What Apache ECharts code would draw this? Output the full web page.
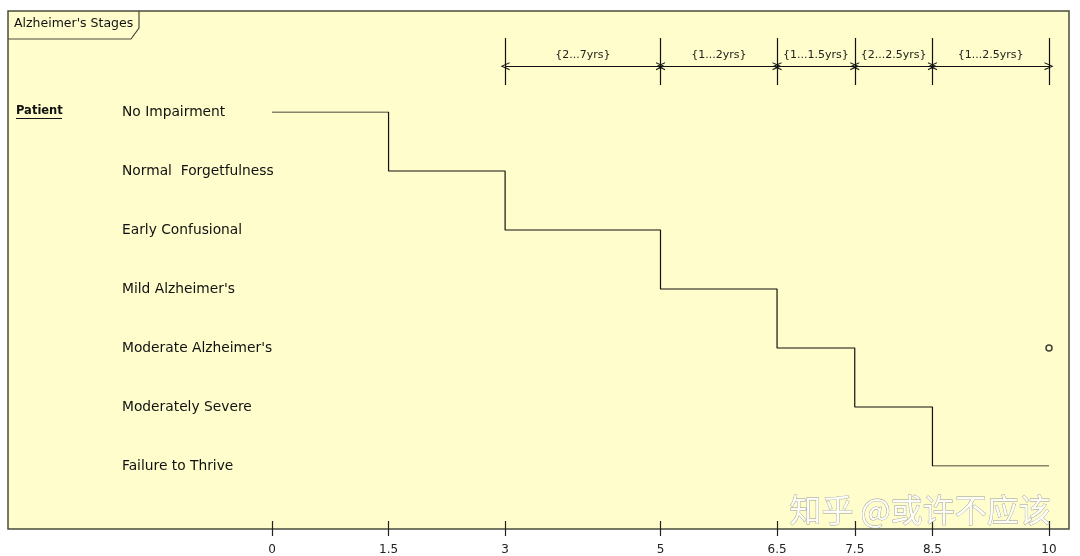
<!DOCTYPE html>
<html>
<head>
<meta charset="utf-8">
<script src="https://cdn.jsdelivr.net/npm/echarts@6/dist/echarts.min.js"></script>
<style>
  html, body { margin: 0; padding: 0; background: #fff; }
  #chart { width: 1080px; height: 556px; }
</style>
</head>
<body>
<div id="chart"></div>
<script>
// stages of the patient, top to bottom
const states = ['No Impairment', 'Normal  Forgetfulness', 'Early Confusional', "Mild Alzheimer's",
  "Moderate Alzheimer's", 'Moderately Severe', 'Failure to Thrive'];
const tickValues = [0, 1.5, 3, 5, 6.5, 7.5, 8.5, 10];
// time the patient enters each state
const changeTimes = [0, 1.5, 3, 5, 6.5, 7.5, 8.5, 10];
const changeStates = ['No Impairment', 'Normal  Forgetfulness', 'Early Confusional', "Mild Alzheimer's",
  "Moderate Alzheimer's", 'Moderately Severe', 'Failure to Thrive', 'Failure to Thrive'];
// duration constraints on top
const spanStart = [3, 5, 6.5, 7.5, 8.5];
const spanEnd = [5, 6.5, 7.5, 8.5, 10];
const spanLabel = ['{2...7yrs}', '{1...2yrs}', '{1...1.5yrs}', '{2...2.5yrs}', '{1...2.5yrs}'];
const markerPoint = [10, "Moderate Alzheimer's"];

const FONT = 'DejaVu Sans';
const arrowHead = 'path://M0,10 L5,0 L10,10 L8.6,10 L5,2.6 L1.4,10 Z';

const chart = echarts.init(document.getElementById('chart'));

const stepData = changeTimes.map((t, i) => [t, changeStates[i]]);
const boundaries = Array.from(new Set(spanStart.concat(spanEnd)));

var option = {
  animation: false,
  textStyle: { fontFamily: FONT },
  graphic: [
    {
      type: 'rect', z: -10,
      shape: { x: 8, y: 11, width: 1061, height: 518 },
      style: { fill: '#fefdcb', stroke: '#4b4b3c', lineWidth: 1.5 }
    },
    {
      type: 'polyline', z: -9,
      shape: { points: [[139, 11], [139, 28], [131, 39], [8, 39]] },
      style: { fill: null, stroke: '#4b4b3c', lineWidth: 1.2 }
    },
    {
      type: 'text', left: 14, top: 17,
      style: { text: "Alzheimer's Stages", font: '12.5px ' + FONT, fill: '#111' }
    },
    {
      type: 'text', left: 16, top: 105,
      style: { text: 'Patient', font: 'bold 11.5px ' + FONT, fill: '#111' }
    },
    {
      type: 'line',
      shape: { x1: 16, y1: 118.5, x2: 62, y2: 118.5 },
      style: { stroke: '#111', lineWidth: 1 }
    },
    {
      type: 'text', left: 789, top: 493, z: 100,
      style: {
        text: '知乎 @或许不应该', font: '32px "Noto Sans CJK SC"',
        fill: 'rgba(255,255,255,0.9)', stroke: '#9a9a90', lineWidth: 0.8
      }
    }
  ],
  grid: [
    { left: 272, right: 31, top: 112, bottom: 90 },
    { left: 272, right: 31, top: 38, bottom: 471 }
  ],
  xAxis: [
    {
      gridIndex: 0, type: 'value', min: 0, max: 10, offset: 55,
      axisLine: { show: false },
      splitLine: { show: false },
      axisTick: { show: true, length: 15, customValues: tickValues, lineStyle: { color: '#222', width: 1.2 } },
      axisLabel: { customValues: tickValues, margin: 23, fontSize: 12, color: '#222', fontFamily: FONT }
    },
    {
      gridIndex: 1, type: 'value', min: 0, max: 10, show: false
    }
  ],
  yAxis: [
    {
      gridIndex: 0, type: 'category', data: states, inverse: true, boundaryGap: false,
      axisLine: { show: false }, axisTick: { show: false }, splitLine: { show: false },
      axisLabel: { align: 'left', margin: 150, fontSize: 13.8, color: '#111', fontFamily: FONT }
    },
    {
      gridIndex: 1, type: 'value', min: 0, max: 1, show: false
    }
  ],
  series: [
    {
      type: 'line', xAxisIndex: 0, yAxisIndex: 0,
      step: 'start', showSymbol: false,
      lineStyle: { color: '#111', width: 1.2 },
      data: stepData
    },
    {
      type: 'scatter', xAxisIndex: 0, yAxisIndex: 0, clip: false, z: 5,
      symbol: 'circle', symbolSize: 6,
      itemStyle: { color: '#fefdcb', borderColor: '#111', borderWidth: 1.5 },
      data: [markerPoint]
    },
    {
      type: 'line', xAxisIndex: 1, yAxisIndex: 1, data: [],
      markLine: {
        silent: true,
        symbol: ['none', 'none'],
        lineStyle: { color: '#111', width: 1.2, type: 'solid' },
        label: { show: false },
        data: boundaries.map(b => ({ xAxis: b }))
      }
    },
    {
      type: 'line', xAxisIndex: 1, yAxisIndex: 1, data: [],
      markLine: {
        silent: true,
        symbol: [arrowHead, arrowHead],
        symbolSize: [8, 9],
        lineStyle: { color: '#111', width: 1, type: 'solid' },
        label: {
          show: true, position: 'middle', distance: 6,
          fontSize: 11, color: '#222', fontFamily: FONT,
          formatter: p => p.name
        },
        data: spanStart.map((s, i) => [
          { name: spanLabel[i], coord: [s, 0.4] },
          { coord: [spanEnd[i], 0.4] }
        ])
      }
    }
  ]
};

chart.setOption(option);
</script>
</body>
</html>
